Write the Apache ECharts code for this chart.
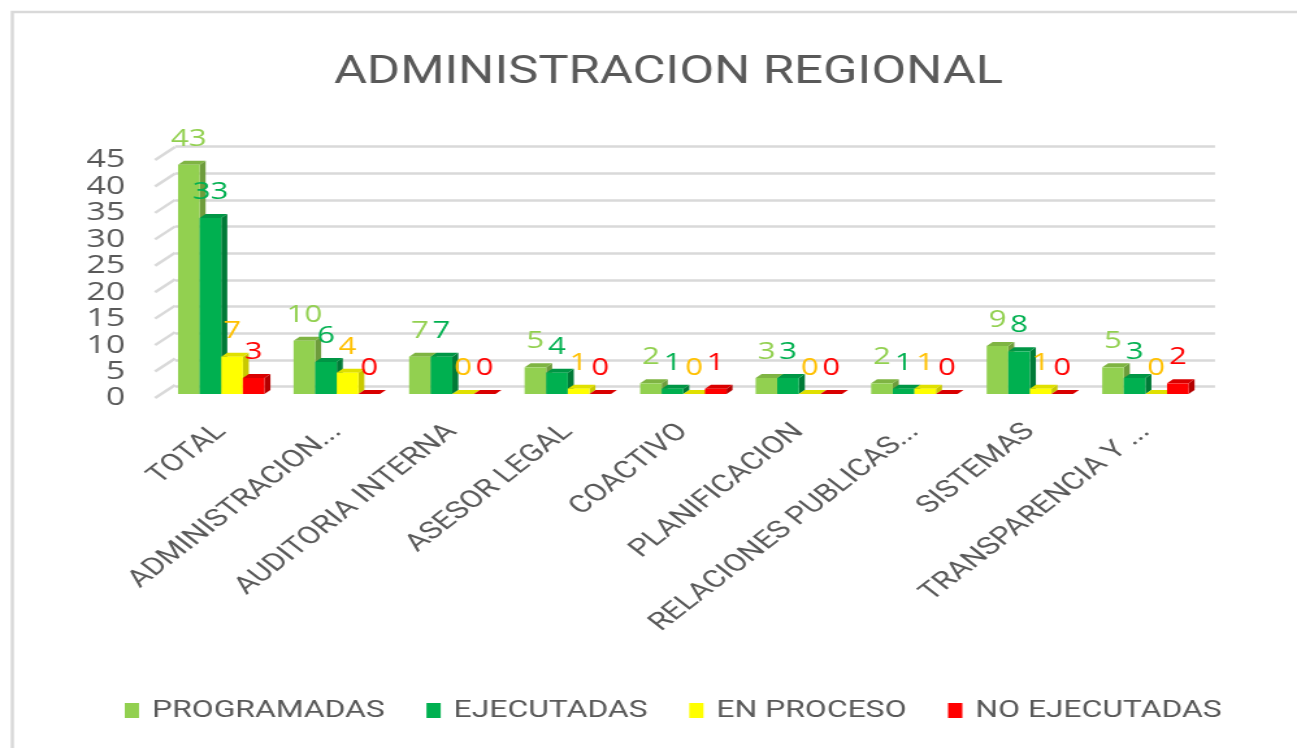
<!DOCTYPE html>
<html>
<head>
<meta charset="utf-8">
<script src="https://cdn.jsdelivr.net/npm/echarts@6/dist/echarts.min.js"></script>
<style>
  html, body { margin: 0; padding: 0; background: #fff; overflow: hidden; }
  /* the reference is an Excel chart stretched sideways, so draw narrow and stretch */
  #chart { width: 998px; height: 748px; transform: scaleX(1.2996); transform-origin: 0 0; }
</style>
</head>
<body>
<div id="chart"></div>
<script>
const categories = ['TOTAL', 'ADMINISTRACION...', 'AUDITORIA INTERNA', 'ASESOR LEGAL', 'COACTIVO',
  'PLANIFICACION', 'RELACIONES PUBLICAS...', 'SISTEMAS', 'TRANSPARENCIA Y ...'];
const programadas = [43, 10, 7, 5, 2, 3, 2, 9, 5];
const ejecutadas = [33, 6, 7, 4, 1, 3, 1, 8, 3];
const enProceso = [7, 4, 0, 1, 0, 0, 1, 1, 0];
const noEjecutadas = [3, 0, 0, 0, 1, 0, 0, 0, 2];
const yTicks = [0, 5, 10, 15, 20, 25, 30, 35, 40, 45];

const textGray = '#595959';
const textFont = 'Roboto, sans-serif';
const numFont = '"Open Sans", sans-serif';

const seriesDefs = [
  { name: 'PROGRAMADAS', data: programadas, front: '#92d050', side: '#6e9c3c', top: '#7fb443', label: '#92d050' },
  { name: 'EJECUTADAS', data: ejecutadas, front: '#00b050', side: '#007a37', top: '#009645', label: '#00b050' },
  { name: 'EN PROCESO', data: enProceso, front: '#ffff00', side: '#c9c900', top: '#e0e000', label: '#ffc000' },
  { name: 'NO EJECUTADAS', data: noEjecutadas, front: '#ff0000', side: '#b30000', top: '#d90000', label: '#ff0000' },
];

const BAR_RATIO = 0.187; // bar width / category width
const BAR_DX = 4.6;
const BAR_DY = 4;
const WALL_DX = 15.4;
const WALL_DY = 13;

const chart = echarts.init(document.getElementById('chart'));

const barSeries = seriesDefs.map((def, k) => ({
  name: def.name,
  type: 'custom',
  xAxisIndex: 0,
  yAxisIndex: 0,
  itemStyle: { color: def.front },
  data: def.data.map((v, i) => [i, v]),
  renderItem: (params, api) => {
    const i = api.value(0);
    const v = api.value(1);
    const base = api.coord([i, 0]);
    const top = api.coord([i, v]);
    const bw = api.size([1, 0])[0] * BAR_RATIO;
    const x0 = base[0] - 2 * bw + k * bw;
    const x1 = x0 + bw;
    const yt = top[1];
    const yb = base[1];
    const children = [
      {
        type: 'polygon',
        shape: { points: [[x1, yt], [x1 + BAR_DX, yt - BAR_DY], [x1 + BAR_DX, yb - BAR_DY], [x1, yb]] },
        style: { fill: def.side },
      },
      {
        type: 'polygon',
        shape: { points: [[x0, yt], [x0 + BAR_DX, yt - BAR_DY], [x1 + BAR_DX, yt - BAR_DY], [x1, yt]] },
        style: { fill: def.top },
      },
    ];
    if (v > 0) {
      children.push({
        type: 'rect',
        shape: { x: x0, y: yt, width: bw, height: yb - yt },
        style: { fill: def.front },
      });
    }
    children.push({
      type: 'text',
      z2: 10,
      style: {
        text: String(v),
        x: x0 + bw / 2,
        y: yt - BAR_DY - 10,
        align: 'center',
        verticalAlign: 'bottom',
        fill: def.label,
        font: '24px ' + numFont,
      },
    });
    return { type: 'group', children };
  },
}));

chart.setOption({
  animation: false,
  graphic: [
    {
      type: 'rect',
      shape: { x: 9.5, y: 12, width: 1100, height: 900 },
      style: { fill: 'none', stroke: '#d9d9d9', lineWidth: 2.5 },
      silent: true,
    },
  ],
  title: {
    text: 'ADMINISTRACION REGIONAL',
    left: 509.4,
    textAlign: 'center',
    top: 49,
    textStyle: { fontFamily: textFont, fontSize: 39, fontWeight: 'normal', color: textGray },
  },
  legend: {
    top: 693,
    left: 91,
    icon: 'rect',
    itemWidth: 11,
    itemHeight: 15,
    itemGap: 32,
    textStyle: { fontFamily: textFont, fontSize: 24.5, color: textGray, padding: [0, 0, 0, 5] },
    data: seriesDefs.map((d) => d.name),
  },
  grid: [
    // bars (front face of the columns)
    { left: 125.8, right: 72.2, top: 154, bottom: 354 },
    // back wall with gridlines
    { left: 134.7, right: 63.1, top: 146.7, bottom: 361.3 },
    // front edge of the floor, carries the value labels
    { left: 119.3, width: 10, top: 160, bottom: 350 },
  ],
  xAxis: [
    {
      gridIndex: 0,
      type: 'category',
      data: categories,
      axisLine: { show: false },
      axisTick: { show: false },
      axisLabel: {
        interval: 0,
        rotate: 45,
        margin: 34,
        fontFamily: textFont,
        fontSize: 24.5,
        color: textGray,
      },
    },
    { gridIndex: 1, type: 'value', min: 0, max: 1, show: false },
    { gridIndex: 2, type: 'value', min: 0, max: 1, show: false },
  ],
  yAxis: [
    { gridIndex: 0, type: 'value', min: 0, max: 45, interval: 5, show: false },
    {
      gridIndex: 1,
      type: 'value',
      min: 0,
      max: 45,
      interval: 5,
      axisLine: { show: false },
      axisTick: { show: false },
      axisLabel: { show: false },
      splitLine: { lineStyle: { color: '#d9d9d9', width: 2.5 } },
    },
    {
      gridIndex: 2,
      type: 'value',
      min: 0,
      max: 45,
      interval: 5,
      axisLine: { show: false },
      axisTick: { show: false },
      splitLine: { show: false },
      axisLabel: { margin: 23, fontFamily: numFont, fontSize: 26, color: textGray },
    },
  ],
  series: [
    {
      type: 'custom',
      name: 'wall',
      xAxisIndex: 2,
      yAxisIndex: 2,
      silent: true,
      data: yTicks.map((t) => [0, t]),
      renderItem: (params, api) => {
        const p = api.coord([0, api.value(1)]);
        return {
          type: 'line',
          shape: { x1: p[0], y1: p[1], x2: p[0] + WALL_DX, y2: p[1] - WALL_DY },
          style: { stroke: '#d9d9d9', lineWidth: 2.5 },
        };
      },
    },
    ...barSeries,
  ],
});
</script>
</body>
</html>
